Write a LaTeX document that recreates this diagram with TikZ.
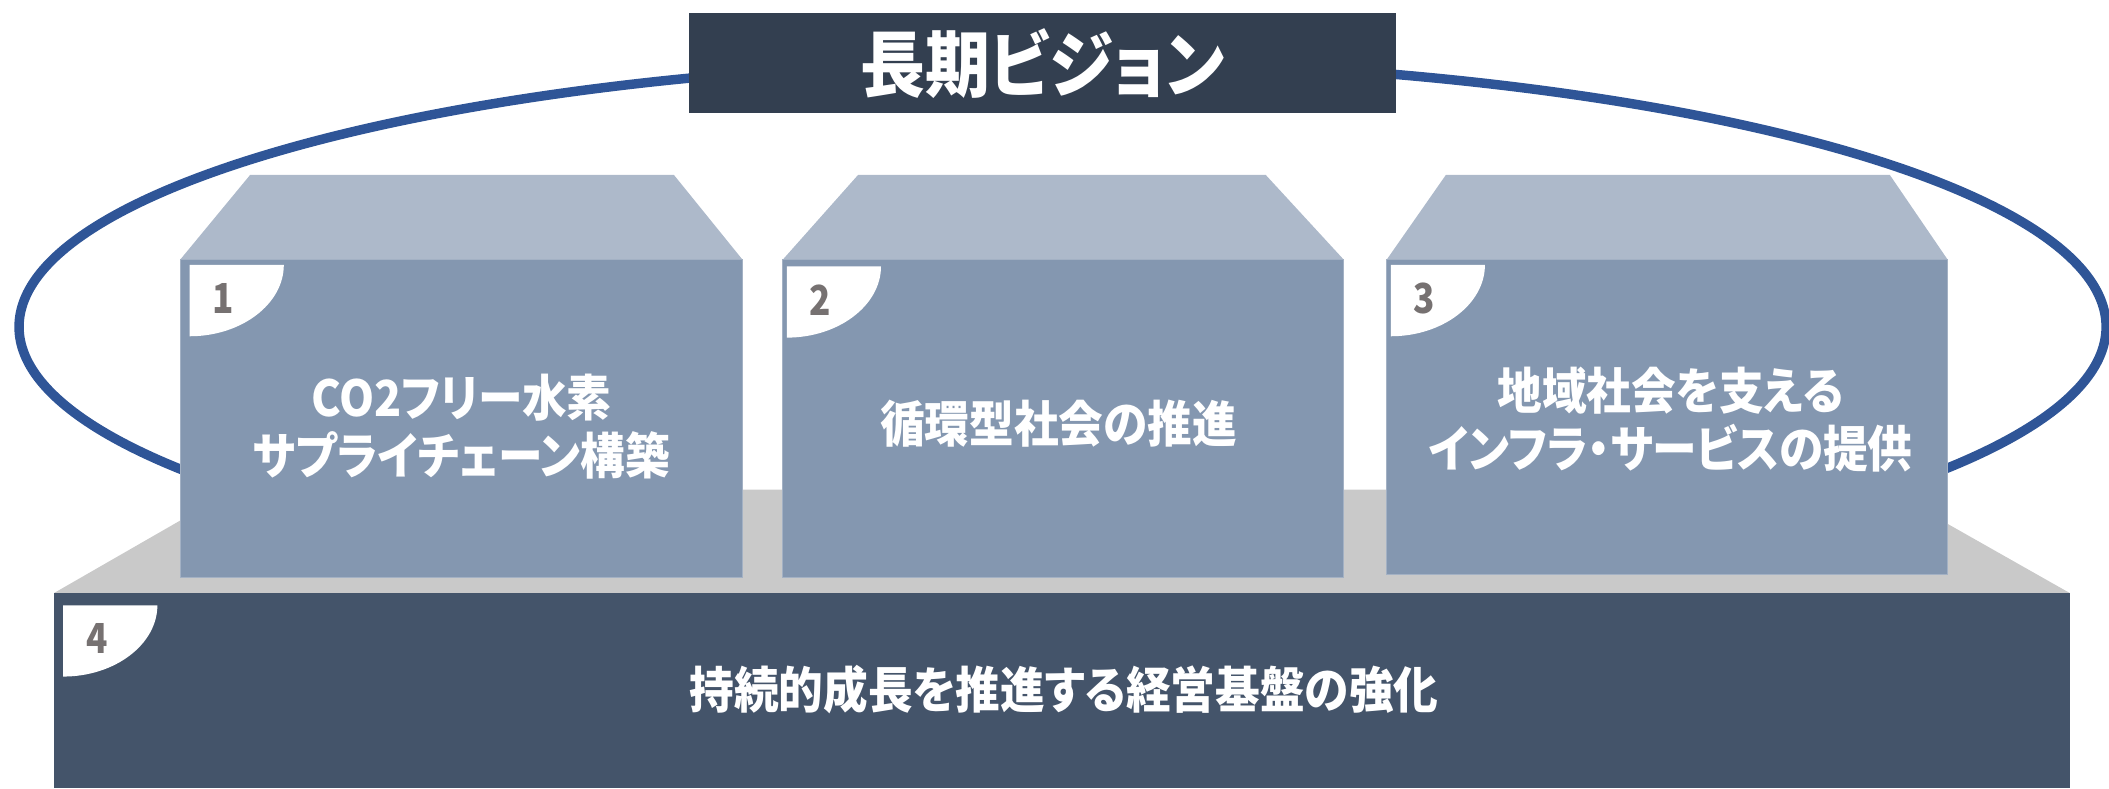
\documentclass[tikz,border=0pt]{standalone}
\usepackage{fontspec}
\newfontfamily\jp{Noto Sans CJK JP}[RawFeature=+palt, FakeStretch=0.9]
\newfontfamily\jpnum{Noto Sans CJK JP}[FakeStretch=0.85]
\definecolor{titlec}{HTML}{333F50}
\definecolor{ringc}{HTML}{2F5597}
\definecolor{roofc}{HTML}{ADB9CA}
\definecolor{frontc}{HTML}{8497B0}
\definecolor{platc}{HTML}{C9C9C9}
\definecolor{basec}{HTML}{44546A}
\definecolor{numc}{HTML}{767171}
\tikzset{
  ring/.style={draw=ringc, line width=4pt},
  titlebox/.style={fill=titlec, text=white, inner sep=0pt, minimum width=10.52cm, minimum height=1.48cm, font=\jp\bfseries\fontsize{30.5}{32}\selectfont},
  roof/.style={fill=roofc},
  front/.style={fill=frontc, draw=frontc!75!white, line width=0.4pt},
  platform/.style={fill=platc},
  basebox/.style={fill=basec},
  badge/.style={fill=white},
  lbl/.style={text=white, align=center, inner sep=0pt, font=\jp\bfseries\fontsize{21}{24.4}\selectfont},
  num/.style={text=numc, inner sep=0pt, font=\jpnum\bfseries\fontsize{17.5}{18}\selectfont}
}
\begin{document}
\begin{tikzpicture}[x=0.02cm, y=-0.02cm]
\useasboundingbox (0,0) rectangle (1568,586);
% ring
\draw[ring] (790,243) ellipse [x radius=15.52cm, y radius=3.96cm];
% title
\node[titlebox] (title) at (775,47) {長期ビジョン};
% platform and base
\fill[platform] (40,441) -- (174,364) -- (1403,364) -- (1539,441) -- cycle;
\fill[basebox] (40,441) rectangle (1539,586);
% box 1
\fill[roof] (134,193) -- (186,130) -- (501,130) -- (552,193) -- cycle;
\filldraw[front] (134,193) rectangle (552,429);
% box 2
\fill[roof] (582,193) -- (638,130) -- (941,130) -- (999,193) -- cycle;
\filldraw[front] (582,193) rectangle (999,429);
% box 3
\fill[roof] (1031,193) -- (1075,130) -- (1405,130) -- (1448,193) -- cycle;
\filldraw[front] (1031,193) rectangle (1448,427);
% badges
\foreach \bx/\by/\n [count=\i] in {141/197/1, 585/198/2, 1034/197/3, 47/450/4}{
  \fill[badge] (\bx,\by) -- ++(70,0) .. controls +(0,29) and +(38.5,0) .. ++(-70,53) -- cycle;
  \node[num] (n\i) at (\bx+25,\by+25) {\n};
}
% labels
\node[lbl] (t1) at (343,317) {CO2フリー水素\\サプライチェーン構築};
\node[lbl] (t2) at (787,315) {循環型社会の推進};
\node[lbl] (t3) at (1242,312) {地域社会を支える\\インフラ・サービスの提供};
\node[lbl] (t4) at (791,513) {持続的成長を推進する経営基盤の強化};
\end{tikzpicture}
\end{document}
